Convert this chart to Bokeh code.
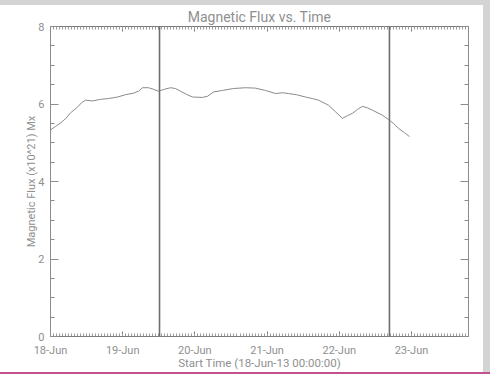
from bokeh.plotting import figure
from bokeh.models import Range1d, LinearAxis, FixedTicker, Span, Spacer
from bokeh.layouts import column, row
from bokeh.embed import file_html
from bokeh.resources import INLINE

# Time in days since 18-Jun-13 00:00:00
days = [0.000, 0.069, 0.139, 0.208, 0.277, 0.374, 0.429, 0.485, 0.582, 0.693,
        0.803, 0.928, 1.039, 1.150, 1.219, 1.274, 1.357, 1.427, 1.496, 1.579,
        1.662, 1.731, 1.801, 1.884, 1.967, 2.105, 2.175, 2.258, 2.382, 2.535,
        2.701, 2.839, 2.978, 3.116, 3.213, 3.296, 3.407, 3.532, 3.629, 3.712,
        3.850, 3.947, 4.044, 4.114, 4.183, 4.252, 4.321, 4.391, 4.460, 4.598,
        4.681, 4.751, 4.820, 4.903, 4.972]
flux = [5.33, 5.42, 5.51, 5.62, 5.77, 5.92, 6.03, 6.10, 6.08, 6.12,
        6.14, 6.18, 6.24, 6.28, 6.33, 6.42, 6.42, 6.38, 6.33, 6.38,
        6.42, 6.40, 6.33, 6.25, 6.18, 6.17, 6.20, 6.31, 6.35, 6.40,
        6.42, 6.41, 6.35, 6.27, 6.29, 6.27, 6.24, 6.18, 6.14, 6.10,
        5.97, 5.80, 5.63, 5.70, 5.76, 5.86, 5.94, 5.90, 5.84, 5.71,
        5.60, 5.50, 5.37, 5.26, 5.16]

day_ticks = [0, 1, 2, 3, 4, 5]
day_labels = ["18-Jun", "19-Jun", "20-Jun", "21-Jun", "22-Jun", "23-Jun"]
y_ticks = [0, 2, 4, 6, 8]
event_days = [1.51, 4.695]

TXT = "#8f8f8f"
AX = "#8c8c8c"
FONT = "Roboto"

p = figure(width=483, height=367, output_backend="svg", toolbar_location=None,
           x_range=Range1d(0, 5.79), y_range=Range1d(0, 8),
           x_axis_type=None, y_axis_type=None,
           min_border_left=50, min_border_right=15, min_border_top=21,
           min_border_bottom=34, title="Magnetic Flux vs. Time")
p.grid.visible = False
p.outline_line_color = None
p.background_fill_color = "white"
p.border_fill_color = "white"

p.title.align = "center"
p.title.text_font = FONT
p.title.text_font_size = "14px"
p.title.text_font_style = "normal"
p.title.text_color = TXT
p.title.standoff = 3

minor_hours = [h / 24 for h in range(0, 140)]

def style_x(ax, labels):
    ax.ticker = FixedTicker(ticks=day_ticks, minor_ticks=minor_hours)
    ax.major_tick_in = 5
    ax.major_tick_out = 0
    ax.minor_tick_in = 3
    ax.minor_tick_out = 0
    ax.axis_line_color = "#777777"
    ax.major_tick_line_color = "#777777"
    ax.minor_tick_line_color = "#9a9a9a"
    ax.major_label_text_font = FONT
    ax.major_label_text_color = TXT
    ax.axis_label_text_font = FONT
    ax.axis_label_text_color = TXT
    ax.axis_label_text_font_style = "normal"
    if labels:
        ax.major_label_overrides = {t: l for t, l in zip(day_ticks, day_labels)}
        ax.major_label_text_font_size = "11px"
        ax.major_label_standoff = 7
        ax.axis_label = "Start Time (18-Jun-13 00:00:00)"
        ax.axis_label_text_font_size = "11.5px"
        ax.axis_label_standoff = -4
    else:
        ax.major_label_overrides = {t: "" for t in day_ticks}
        ax.major_label_text_font_size = "1px"
        ax.major_label_standoff = 0

def style_y(ax, labels):
    ax.ticker = FixedTicker(ticks=y_ticks, minor_ticks=[i * 0.5 for i in range(17)])
    ax.major_tick_in = 8
    ax.major_tick_out = 0
    ax.minor_tick_in = 4
    ax.minor_tick_out = 0
    ax.axis_line_color = AX
    ax.major_tick_line_color = AX
    ax.minor_tick_line_color = AX
    ax.major_label_text_font = FONT
    ax.major_label_text_color = TXT
    ax.axis_label_text_font = FONT
    ax.axis_label_text_color = TXT
    ax.axis_label_text_font_style = "normal"
    if labels:
        ax.major_label_text_font_size = "11px"
        ax.major_label_standoff = 6
        ax.axis_label = "Magnetic Flux (x10^21) Mx"
        ax.axis_label_text_font_size = "11px"
        ax.axis_label_standoff = -3
    else:
        ax.major_label_overrides = {t: "" for t in y_ticks}
        ax.major_label_text_font_size = "1px"
        ax.major_label_standoff = 0

bottom = LinearAxis(); style_x(bottom, True); p.add_layout(bottom, "below")
top = LinearAxis(); style_x(top, False); p.add_layout(top, "above")
left = LinearAxis(); style_y(left, True); p.add_layout(left, "left")
right = LinearAxis(); style_y(right, False); p.add_layout(right, "right")

p.line(days, flux, line_color="#8a8a8a", line_width=1)

for d in event_days:
    p.add_layout(Span(location=d, dimension="height", line_color="#6e6e6e", line_width=1.6))

GRAY = {"background-color": "#d4d4d4"}
top_bar = Spacer(width=490, height=5, styles=GRAY)
side_bar = Spacer(width=7, height=367, styles=GRAY)
pink_bar = Spacer(width=490, height=2, styles={"background-color": "#c2528f"})
page = column(top_bar, row(p, side_bar, spacing=0), pink_bar, spacing=0)

open("out.html", "w").write(file_html(page, INLINE))
